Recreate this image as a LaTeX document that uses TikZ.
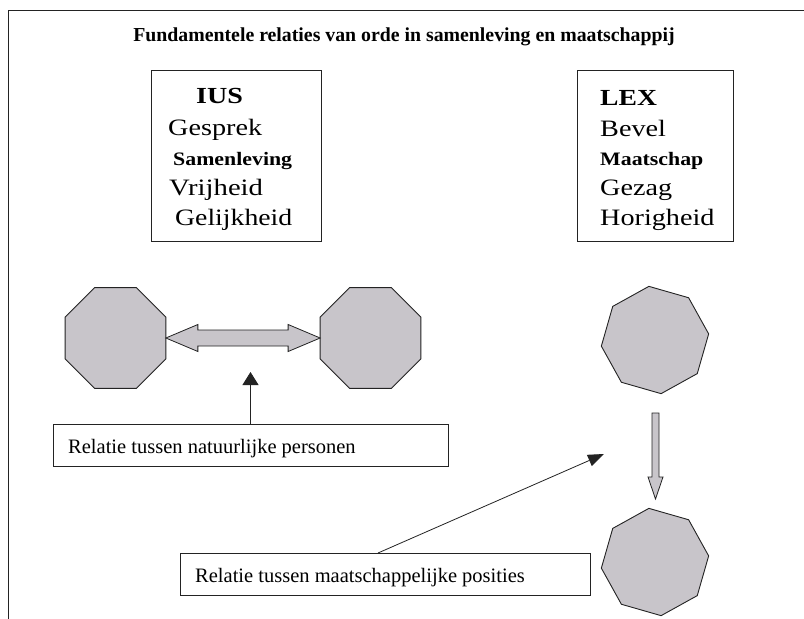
\documentclass[tikz,border=0pt]{standalone}
\usepackage{fontspec}
\setmainfont{Liberation Serif}
\usetikzlibrary{shapes.geometric,arrows.meta,calc}
\definecolor{octfill}{RGB}{200,197,202}
\definecolor{edgec}{RGB}{35,35,35}
\tikzset{
  oct/.style={regular polygon, regular polygon sides=8, draw=edgec, fill=octfill,
    inner sep=0pt, outer sep=0pt, line width=0.9pt},
  frame/.style={draw=edgec, line width=0.9pt, inner sep=0pt, outer sep=0pt, anchor=north west},
  bigword/.style={anchor=base west, inner sep=0pt, font=\fontsize{23.5}{28}\selectfont},
  bigbold/.style={anchor=base west, inner sep=0pt, font=\bfseries\fontsize{23}{28}\selectfont},
  midbold/.style={anchor=base west, inner sep=0pt, font=\bfseries\fontsize{19}{22}\selectfont},
  label/.style={anchor=base west, inner sep=0pt, font=\fontsize{20.5}{24}\selectfont},
  fatarrow/.style={draw=edgec, fill=octfill, line width=0.8pt, line join=miter},
  thin/.style={draw=edgec, line width=0.8pt}
}
\begin{document}
\begin{tikzpicture}[x=1pt,y=-1pt]
\useasboundingbox (0,0) rectangle (804,619);
\fill[white] (0,0) rectangle (804,619);
% outer frame
\draw[edgec, line width=1.8pt] (8,10.5) -- (804,10.5);
\draw[edgec, line width=1pt] (8.5,10) -- (8.5,619);
% title
\node[font=\bfseries\fontsize{19.8}{24}\selectfont, inner sep=0pt, anchor=base] (title) at (404,41) {Fundamentele relaties van orde in samenleving en maatschappij};
% IUS box
\node[frame, minimum width=170pt, minimum height=171pt] (iusbox) at (151,70) {};
\node[bigbold] (ius) at (196,103) {\scalebox{1.22}[1]{IUS}};
\node[bigword] (gesprek) at (168,135) {\scalebox{1.2}[1]{Gesprek}};
\node[midbold] (samenleving) at (173,165) {\scalebox{1.15}[1]{Samenleving}};
\node[bigword] (vrijheid) at (169,195) {\scalebox{1.22}[1]{Vrijheid}};
\node[bigword] (gelijkheid) at (175,225) {\scalebox{1.18}[1]{Gelijkheid}};
% LEX box
\node[frame, minimum width=156pt, minimum height=171pt] (lexbox) at (577,70) {};
\node[bigbold] (lex) at (600,105) {\scalebox{1.2}[1]{LEX}};
\node[bigword] (bevel) at (600,136) {\scalebox{1.2}[1]{Bevel}};
\node[midbold] (maatschap) at (600,165) {\scalebox{1.15}[1]{Maatschap}};
\node[bigword] (gezag) at (600,195) {\scalebox{1.2}[1]{Gezag}};
\node[bigword] (horigheid) at (600,225) {\scalebox{1.2}[1]{Horigheid}};
% octagons
\node[oct, minimum size=109pt] (o1) at (115.5,338) {};
\node[oct, minimum size=109pt] (o2) at (370.5,338) {};
\node[oct, minimum size=108pt, shape border rotate=-16] (o3) at (655,340) {};
\node[oct, minimum size=108pt, shape border rotate=-16] (o4) at (655,562) {};
% double arrow between o1 and o2
\draw[fatarrow] (o1.east) -- ++(32,-13.5) -- ++(0,5.5)
  -- ($(o2.west)+(-32,-8)$) -- ++(0,-5.5) -- (o2.west)
  -- ++(-32,13.5) -- ++(0,-5.5) -- ($(o1.east)+(32,8)$) -- ++(0,5.5) -- cycle;
% down arrow between o3 and o4
\coordinate (dtop) at ($(o3.center)+(0.5,73)$);
\coordinate (dtip) at ($(o4.center)+(0.5,-63)$);
\draw[fatarrow] ($(dtop)+(-3.5,0)$) -- ($(dtop)+(3.5,0)$) -- ($(dtip)+(3.5,-22)$)
  -- ($(dtip)+(7.5,-22)$) -- (dtip) -- ($(dtip)+(-7.5,-22)$) -- ($(dtip)+(-3.5,-22)$) -- cycle;
% label boxes
\node[frame, minimum width=395pt, minimum height=42pt] (b1) at (53,424) {};
\node[label] (t1) at (68,453) {Relatie tussen natuurlijke personen};
\node[frame, minimum width=410pt, minimum height=42pt] (b2) at (180,553) {};
\node[label] (t2) at (195,582) {Relatie tussen maatschappelijke posities};
% pointer arrows
\coordinate (uptip) at (250.5,372);
\draw[thin, -{Triangle[length=13pt,width=16pt]}] (uptip |- b1.north) -- (uptip);
\coordinate (diagtip) at (604,454);
\draw[thin, -{Triangle[length=16pt,width=12pt]}] ($(b2.north west)+(198,0)$) -- (diagtip);
\end{tikzpicture}
\end{document}
